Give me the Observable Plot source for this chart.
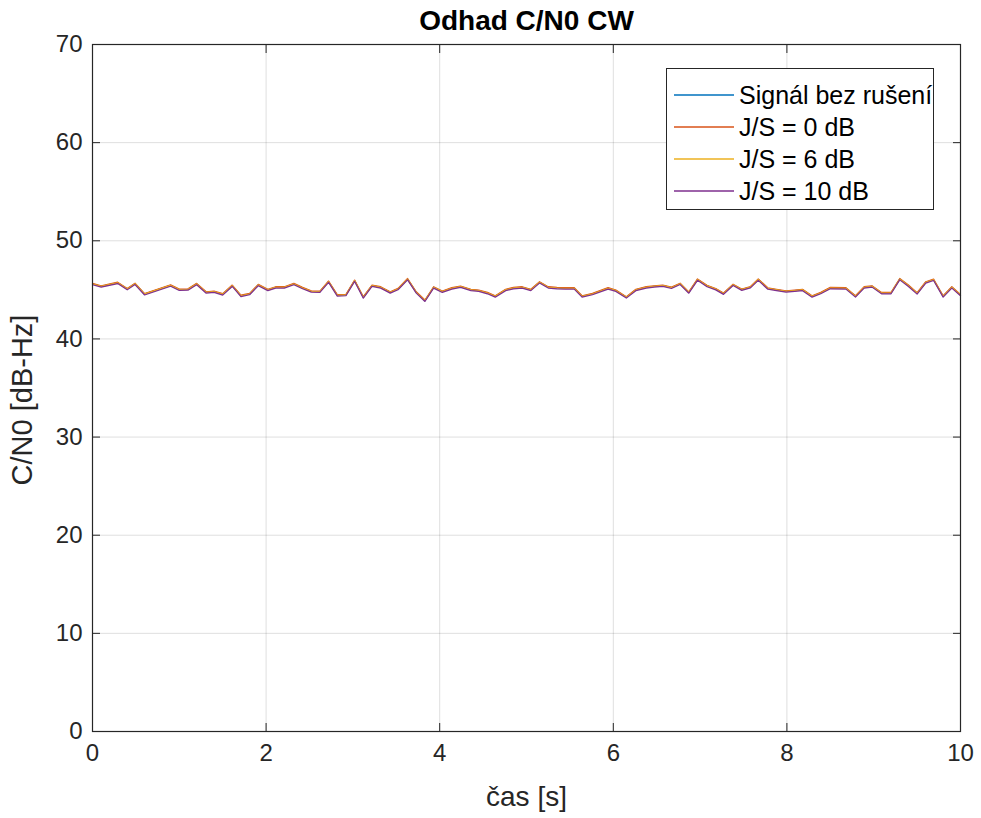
<!DOCTYPE html>
<html>
<head>
<meta charset="utf-8">
<script src="https://cdn.jsdelivr.net/npm/d3@7"></script>
<script src="https://cdn.jsdelivr.net/npm/@observablehq/plot@0.6"></script>
<style>
  body { margin: 0; background: #fff; }
  #wrap { position: relative; width: 981px; height: 818px; font-family: "Liberation Sans", Arial, sans-serif; }
  #legend { position: absolute; left: 666px; top: 68px; width: 266px; height: 140px; border: 1px solid #262626; background: #fff; box-sizing: content-box; }
  .row { position: absolute; left: 0; height: 32px; display: flex; align-items: center; font-size: 25px; color: #000; white-space: nowrap; }
  .row svg { flex: 0 0 60px; margin-left: 7px; margin-right: 5px; }
</style>
</head>
<body>
<div id="wrap"></div>
<script>
// time samples [s] and C/N0 estimates [dB-Hz]
const time = [0.00,0.10,0.29,0.40,0.49,0.60,0.90,1.00,1.10,1.20,1.31,1.40,1.50,1.61,1.71,1.81,1.91,2.02,2.11,2.21,2.32,2.42,2.52,2.62,2.72,2.82,2.92,3.02,3.12,3.22,3.32,3.43,3.52,3.63,3.73,3.83,3.93,4.03,4.14,4.24,4.36,4.45,4.55,4.64,4.76,4.85,4.95,5.05,5.15,5.25,5.35,5.45,5.55,5.64,5.76,5.94,6.03,6.15,6.26,6.38,6.47,6.57,6.67,6.77,6.87,6.97,7.08,7.18,7.27,7.38,7.48,7.58,7.67,7.78,7.88,7.99,8.09,8.18,8.29,8.39,8.50,8.68,8.79,8.89,8.98,9.09,9.20,9.30,9.40,9.50,9.60,9.69,9.80,9.90,10.00];
const signalClean = [45.60,45.36,45.72,45.08,45.62,44.56,45.45,45.02,45.05,45.60,44.74,44.82,44.55,45.43,44.40,44.58,45.50,45.00,45.26,45.26,45.60,45.19,44.85,44.82,45.84,44.45,44.48,45.94,44.24,45.43,45.26,44.75,45.09,46.10,44.75,43.90,45.26,44.82,45.16,45.33,45.00,44.92,44.68,44.34,45.00,45.19,45.26,45.00,45.77,45.26,45.19,45.16,45.16,44.34,44.58,45.16,44.92,44.24,45.00,45.26,45.36,45.43,45.22,45.62,44.74,46.05,45.40,45.08,44.62,45.52,45.03,45.28,46.05,45.15,45.00,44.85,44.92,45.00,44.34,44.68,45.19,45.16,44.34,45.26,45.36,44.68,44.68,46.10,45.43,44.65,45.77,46.03,44.34,45.26,44.48];
const js0dB = signalClean.slice();
const js6dB = signalClean.slice();
const js10dB = signalClean.slice();

const seriesNames = ["Signál bez rušení", "J/S = 0 dB", "J/S = 6 dB", "J/S = 10 dB"];
const seriesValues = [signalClean, js0dB, js6dB, js10dB];
const seriesColors = ["#0072BD", "#D95319", "#EDB120", "#7E2F8E"];
const seriesDy = [0, -0.6, 0, 0.8];

const xTicks = [0, 2, 4, 6, 8, 10];
const yTicks = [0, 10, 20, 30, 40, 50, 60, 70];

const titleText = "Odhad C/N0 CW";
const xLabel = "čas [s]";
const yLabel = "C/N0 [dB-Hz]";

const lineMarks = seriesValues.map((vals, i) =>
  Plot.line(time.map((t, k) => ({t, v: vals[k]})), {
    x: "t", y: "v", stroke: seriesColors[i], strokeWidth: 1.2, dy: seriesDy[i]
  })
);

const axisColor = "#262626";
const chart = Plot.plot({
  width: 981,
  height: 818,
  marginTop: 44,
  marginLeft: 92,
  marginRight: 21,
  marginBottom: 87,
  style: { fontFamily: "'Liberation Sans', Arial, sans-serif", background: "#fff", overflow: "visible" },
  x: { domain: [0, 10], ticks: xTicks },
  y: { domain: [0, 70], ticks: yTicks },
  marks: [
    Plot.gridX(xTicks, { stroke: "#000", strokeOpacity: 0.13, strokeWidth: 1 }),
    Plot.gridY(yTicks, { stroke: "#000", strokeOpacity: 0.13, strokeWidth: 1 }),
    ...lineMarks,
    Plot.frame({ stroke: axisColor, strokeWidth: 1.2 }),
    Plot.axisX(xTicks, { anchor: "bottom", tickSize: -8, tickPadding: 20, fontSize: 24, color: axisColor, stroke: axisColor, label: null }),
    Plot.axisX(xTicks, { anchor: "top", tickSize: -8, tickFormat: () => "", label: null, stroke: axisColor }),
    Plot.axisY(yTicks, { anchor: "left", tickSize: -8, tickPadding: 18, fontSize: 24, color: axisColor, stroke: axisColor, label: null }),
    Plot.axisY(yTicks, { anchor: "right", tickSize: -8, tickFormat: () => "", label: null, stroke: axisColor }),
    Plot.text([titleText], { frameAnchor: "top", dy: -34, text: d => d, fontSize: 28, fontWeight: "bold", fill: "#000" }),
    Plot.text([xLabel], { frameAnchor: "bottom", dy: 74, text: d => d, fontSize: 28, fill: axisColor }),
    Plot.text([yLabel], { frameAnchor: "left", dx: -70, dy: 12, rotate: -90, textAnchor: "middle", text: d => d, fontSize: 29, fill: axisColor })
  ]
});

const wrap = document.getElementById("wrap");
wrap.appendChild(chart);

const legend = document.createElement("div");
legend.id = "legend";
seriesNames.forEach((name, i) => {
  const row = document.createElement("div");
  row.className = "row";
  row.style.top = (10 + i * 32) + "px";
  const sw = d3.create("svg").attr("width", 60).attr("height", 4);
  sw.append("line").attr("x1", 0).attr("x2", 60).attr("y1", 2).attr("y2", 2)
    .attr("stroke", seriesColors[i]).attr("stroke-width", 1.3);
  const tx = document.createElement("span");
  tx.textContent = name;
  row.appendChild(sw.node());
  row.appendChild(tx);
  legend.appendChild(row);
});
wrap.appendChild(legend);
</script>
</body>
</html>
